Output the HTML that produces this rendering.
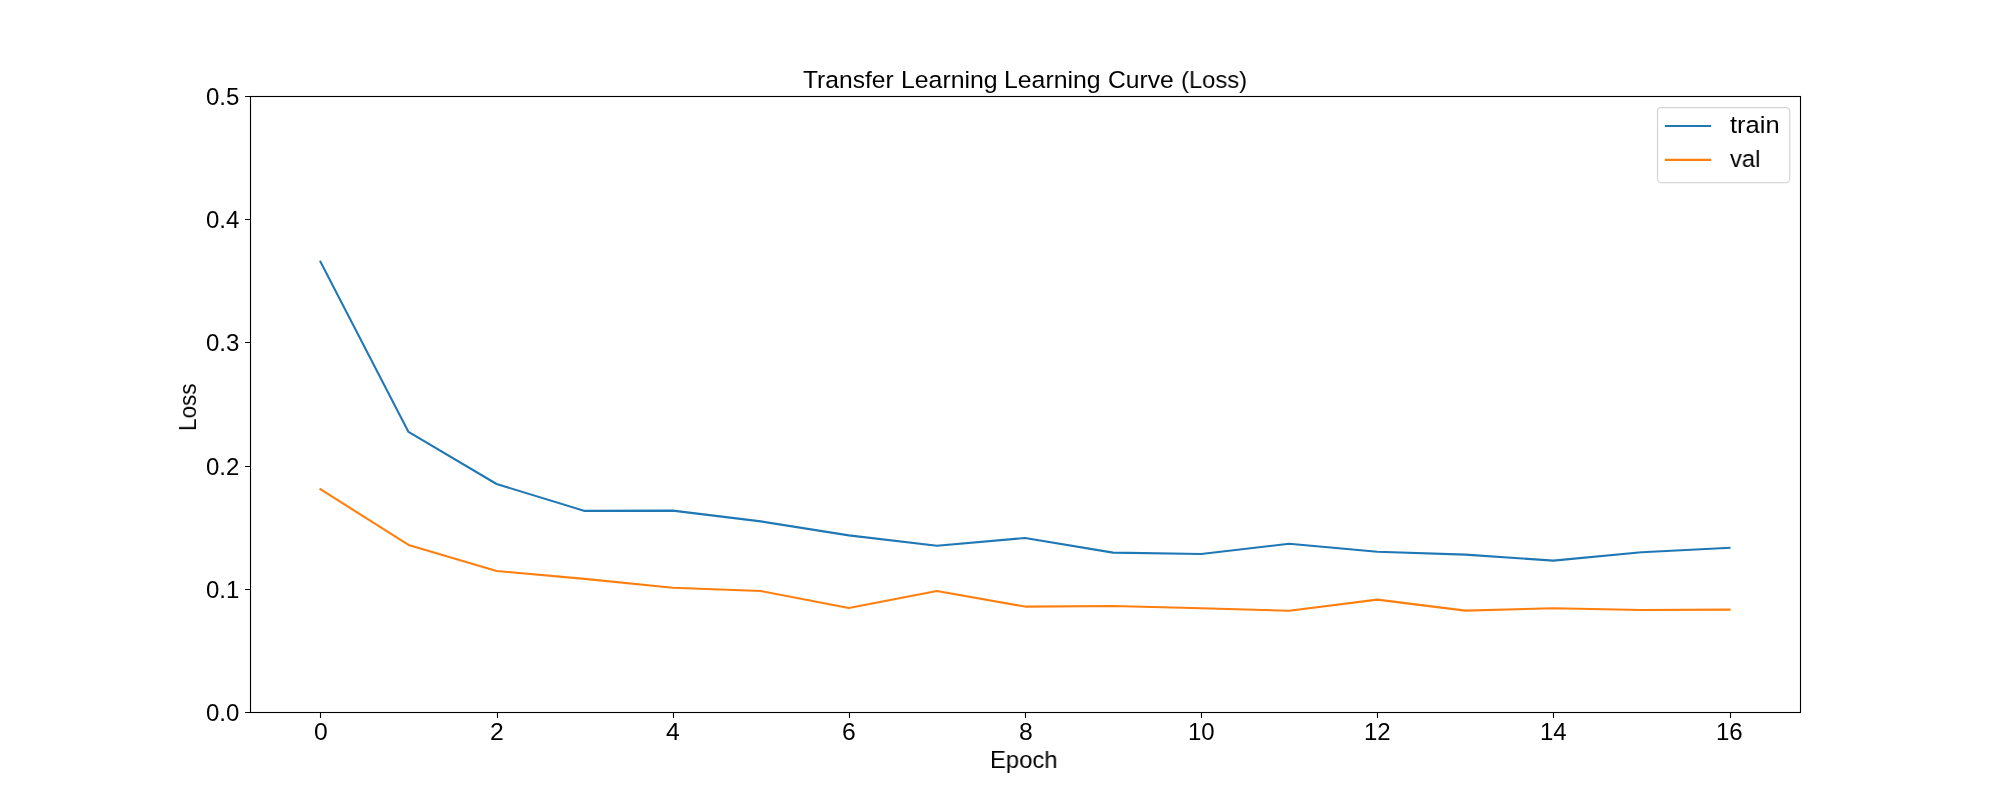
<!DOCTYPE html>
<html lang="en">
<head>
<meta charset="utf-8">
<title>Transfer Learning Learning Curve (Loss)</title>
<style>
html,body{margin:0;padding:0;background:#fff}
body{width:2000px;height:800px;position:relative;overflow:hidden;font-family:"Liberation Sans",sans-serif;color:#000}
.w{position:absolute;top:0;display:block;white-space:nowrap;transform-origin:0 0;will-change:transform}
.t{position:absolute;white-space:nowrap;line-height:1;transform-origin:0 0;margin:0;padding:0;will-change:transform;-webkit-font-smoothing:antialiased}
</style>
</head>
<body>
<svg width="2000" height="800" viewBox="0 0 2000 800" style="position:absolute;left:0;top:0">
<polyline fill="none" stroke="#1f77b4" stroke-width="2.08" stroke-linejoin="round" stroke-linecap="square" points="320.45,261.70 408.52,431.90 496.59,484.00 584.66,510.90 672.73,510.60 760.80,521.40 848.86,535.40 936.93,545.80 1025.00,538.00 1113.07,552.60 1201.14,554.00 1289.20,543.80 1377.27,551.70 1465.34,554.60 1553.41,560.60 1641.48,552.20 1729.55,547.80"/>
<polyline fill="none" stroke="#ff7f0e" stroke-width="2.08" stroke-linejoin="round" stroke-linecap="square" points="320.45,489.20 408.52,544.90 496.59,571.00 584.66,578.90 672.73,587.70 760.80,591.00 848.86,608.00 936.93,591.00 1025.00,606.60 1113.07,606.00 1201.14,608.20 1289.20,610.80 1377.27,599.60 1465.34,610.60 1553.41,608.20 1641.48,610.00 1729.55,609.60"/>
<rect x="250.5" y="96.5" width="1550.0" height="616.0" fill="none" stroke="#000" stroke-width="1.11"/>
<path d="M320.5 712.5V717.90M497.5 712.5V717.90M673.5 712.5V717.90M849.5 712.5V717.90M1025.5 712.5V717.90M1201.5 712.5V717.90M1377.5 712.5V717.90M1553.5 712.5V717.90M1730.5 712.5V717.90M250.5 712.5H245.10M250.5 589.5H245.10M250.5 466.5H245.10M250.5 342.5H245.10M250.5 219.5H245.10M250.5 96.5H245.10" fill="none" stroke="#000" stroke-width="1.11"/>
<rect x="1657.50" y="107.50" width="132.20" height="75.00" rx="3.60" fill="#fff" fill-opacity="0.8" stroke="#ccc" stroke-opacity="0.8" stroke-width="1.25"/>
<path d="M1666.00 126.00H1710.10" stroke="#1f77b4" stroke-width="2.08" stroke-linecap="square" fill="none"/>
<path d="M1666.00 159.90H1710.10" stroke="#ff7f0e" stroke-width="2.08" stroke-linecap="square" fill="none"/>
</svg>
<div class="t title" style="left:0;top:68.00px;font-size:24.50px"><span class="w" style="left:803.40px;transform:scaleX(1.0034)">Transfer</span> <span class="w" style="left:900.77px;transform:scaleX(1.0136)">Learning</span> <span class="w" style="left:1004.37px;transform:scaleX(1.0125)">Learning</span> <span class="w" style="left:1107.74px;transform:scaleX(1.0063)">Curve</span> <span class="w" style="left:1180.55px;transform:scaleX(0.9692)">(Loss)</span></div>
<div class="t xlabel" style="left:990.30px;top:748.20px;font-size:24.50px;transform: scaleX(0.9735)">Epoch</div>
<div class="t ylabel" style="left:175.80px;top:430.90px;font-size:24.50px;transform:rotate(-90deg) scaleX(0.9180)">Loss</div>
<div class="t xt" style="left:313.95px;top:719.90px;font-size:24.00px;transform: scaleX(1.0300)">0</div>
<div class="t xt" style="left:490.09px;top:719.90px;font-size:24.00px;transform: scaleX(1.0300)">2</div>
<div class="t xt" style="left:666.23px;top:719.90px;font-size:24.00px;transform: scaleX(1.0300)">4</div>
<div class="t xt" style="left:842.36px;top:719.90px;font-size:24.00px;transform: scaleX(1.0300)">6</div>
<div class="t xt" style="left:1018.50px;top:719.90px;font-size:24.00px;transform: scaleX(1.0300)">8</div>
<div class="t xt" style="left:1187.64px;top:719.90px;font-size:24.00px;transform: scaleX(1.0000)">10</div>
<div class="t xt" style="left:1363.77px;top:719.90px;font-size:24.00px;transform: scaleX(1.0000)">12</div>
<div class="t xt" style="left:1539.91px;top:719.90px;font-size:24.00px;transform: scaleX(1.0000)">14</div>
<div class="t xt" style="left:1716.05px;top:719.90px;font-size:24.00px;transform: scaleX(1.0000)">16</div>
<div class="t yt" style="left:206.30px;top:700.50px;font-size:24.00px;transform: scaleX(1.0000)">0.0</div>
<div class="t yt" style="left:206.30px;top:577.50px;font-size:24.00px;transform: scaleX(1.0000)">0.1</div>
<div class="t yt" style="left:206.30px;top:454.50px;font-size:24.00px;transform: scaleX(1.0000)">0.2</div>
<div class="t yt" style="left:206.30px;top:330.50px;font-size:24.00px;transform: scaleX(1.0000)">0.3</div>
<div class="t yt" style="left:206.30px;top:207.50px;font-size:24.00px;transform: scaleX(1.0000)">0.4</div>
<div class="t yt" style="left:206.30px;top:84.50px;font-size:24.00px;transform: scaleX(1.0000)">0.5</div>
<div class="t lg" style="left:1729.60px;top:113.45px;font-size:24.50px;transform: scaleX(1.0420)">train</div>
<div class="t lg" style="left:1729.90px;top:147.40px;font-size:24.50px;transform: scaleX(0.9680)">val</div>
</body>
</html>
